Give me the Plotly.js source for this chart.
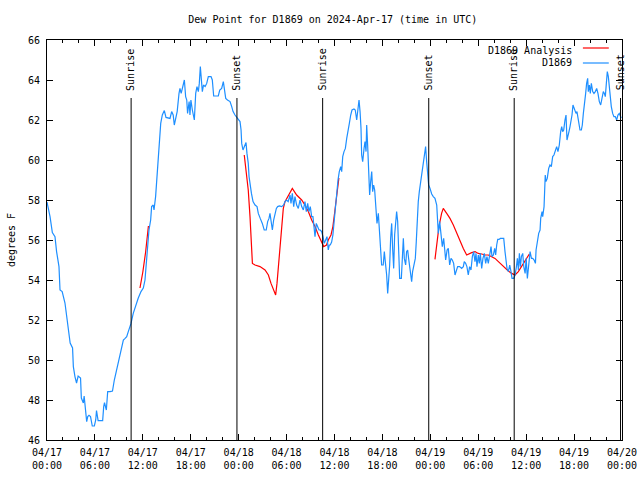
<!DOCTYPE html>
<html>
<head>
<meta charset="utf-8">
<script src="https://cdn.plot.ly/plotly-3.0.1.min.js"></script>
<style>html,body{margin:0;padding:0;background:#fff;}#chart{width:640px;height:480px;}</style>
</head>
<body>
<div id="chart"></div>
<script>
// D1869 observations: hours after 2024-04-17 00:00 UTC, dew point (F)
const blueHours = [0.0,0.38,0.67,1.0,1.2,1.5,1.63,1.9,2.25,2.6,2.9,3.2,3.3,3.5,3.7,3.9,4.2,4.3,4.55,4.65,4.85,4.97,5.1,5.26,5.45,5.67,5.93,6.1,6.2,6.4,6.7,6.97,7.1,7.2,7.43,7.6,7.9,8.2,8.43,8.72,9.0,9.27,9.56,9.75,9.98,10.18,10.52,10.8,11.1,11.43,11.77,12.06,12.27,12.48,12.6,12.77,12.98,13.1,13.3,13.4,13.6,13.78,13.94,14.06,14.24,14.44,14.69,14.9,15.2,15.4,15.61,15.8,15.94,16.1,16.3,16.53,16.65,16.8,17.07,17.2,17.36,17.5,17.6,17.8,17.9,18.02,18.2,18.37,18.45,18.62,18.78,18.95,19.07,19.2,19.3,19.45,19.6,19.8,20.0,20.2,20.54,20.7,20.87,21.1,21.45,21.63,21.87,22.08,22.2,22.38,22.6,22.92,23.13,23.3,23.54,23.75,23.96,24.17,24.3,24.38,24.54,24.7,24.92,25.04,25.2,25.3,25.46,25.6,25.8,26.05,26.3,26.46,26.7,26.96,27.2,27.45,27.63,27.8,27.92,28.05,28.22,28.38,28.55,28.72,28.88,29.1,29.38,29.63,29.8,30.0,30.2,30.43,30.55,30.72,30.89,31.05,31.26,31.47,31.68,31.89,32.1,32.3,32.47,32.64,32.8,32.97,33.14,33.3,33.43,33.56,33.72,33.89,34.06,34.22,34.39,34.56,34.72,34.89,35.06,35.22,35.35,35.47,35.64,35.8,35.94,36.06,36.19,36.3,36.44,36.6,36.78,36.9,37.03,37.19,37.36,37.53,37.69,37.86,38.03,38.19,38.44,38.6,38.78,38.94,39.07,39.2,39.32,39.4,39.53,39.7,39.82,39.95,40.03,40.15,40.28,40.4,40.53,40.66,40.78,40.9,41.03,41.2,41.32,41.49,41.61,41.78,41.9,42.1,42.24,42.36,42.53,42.66,42.78,42.91,43.03,43.16,43.28,43.41,43.53,43.66,43.78,43.91,44.03,44.16,44.37,44.49,44.62,44.74,44.91,45.03,45.16,45.28,45.41,45.53,45.66,45.78,45.95,46.12,46.24,46.37,46.49,46.62,46.78,46.95,47.12,47.29,47.41,47.54,47.66,47.79,47.96,48.17,48.37,48.58,48.8,48.92,49.0,49.17,49.33,49.5,49.67,49.8,49.92,50.1,50.25,50.42,50.59,50.75,50.92,51.09,51.25,51.42,51.67,51.92,52.13,52.25,52.42,52.58,52.75,52.92,53.09,53.26,53.42,53.59,53.72,53.84,54.01,54.13,54.26,54.43,54.59,54.76,54.93,55.09,55.26,55.43,55.6,55.72,55.89,56.06,56.18,56.31,56.44,56.6,56.77,57.02,57.19,57.35,57.48,57.6,57.77,57.94,58.1,58.23,58.44,58.61,58.78,58.9,59.03,59.15,59.28,59.4,59.57,59.7,59.87,60.0,60.15,60.28,60.4,60.49,60.66,60.82,61.0,61.16,61.24,61.4,61.57,61.74,61.82,61.99,62.07,62.24,62.32,62.39,62.48,62.64,62.82,62.98,63.15,63.32,63.48,63.65,63.82,63.98,64.15,64.32,64.45,64.57,64.7,64.86,64.99,65.11,65.24,65.36,65.49,65.61,65.74,65.86,65.99,66.11,66.24,66.36,66.49,66.61,66.74,66.91,67.03,67.16,67.28,67.45,67.57,67.7,67.78,67.91,68.03,68.16,68.33,68.49,68.66,68.83,68.99,69.16,69.33,69.5,69.66,69.79,69.91,70.04,70.16,70.29,70.41,70.54,70.66,70.83,70.99,71.16,71.33,71.49,71.66,71.9];
const blueValues = [57.9,57.17,56.37,56.17,55.42,54.67,53.5,53.42,52.85,51.85,50.85,50.6,49.67,49.17,48.85,49.2,49.1,48.1,47.85,48.2,47.42,46.92,47.17,47.23,47.17,46.7,46.7,47.0,47.47,46.97,46.97,46.97,47.67,47.87,47.5,48.42,48.42,48.45,49.0,49.5,50.0,50.5,51.0,51.07,51.17,51.42,51.83,52.33,52.75,53.1,53.42,53.6,54.0,55.08,56.0,56.5,57.0,57.67,57.75,57.5,58.17,59.17,60.0,61.0,61.83,62.25,62.47,62.13,62.08,62.08,62.42,62.25,61.75,62.08,62.42,63.33,63.58,63.33,63.83,64.0,63.17,63.0,62.33,62.92,62.25,63.0,62.5,62.08,62.0,63.33,63.67,63.42,63.83,64.67,64.0,63.42,63.75,63.67,63.83,64.17,64.17,64.0,63.2,63.2,63.2,63.5,63.58,63.92,63.58,63.08,63.0,62.92,62.67,62.42,62.25,62.13,62.03,61.92,61.5,60.83,60.5,60.67,60.87,60.33,59.83,59.17,58.58,58.33,57.92,57.75,57.67,57.33,57.08,56.83,56.5,56.5,56.92,57.08,57.33,57.0,56.5,57.0,57.33,57.58,57.67,57.7,57.67,57.75,57.92,58.0,57.92,58.25,57.83,58.33,57.67,58.17,57.75,57.58,58.0,57.67,57.5,57.92,57.42,57.83,57.42,57.67,57.17,57.17,56.67,56.17,56.83,56.67,56.5,56.5,56.42,56.17,55.83,56.0,56.17,55.5,55.75,55.75,55.9,56.25,56.92,57.42,58.25,58.58,59.0,59.42,59.67,59.42,60.17,60.42,60.58,61.08,61.58,61.83,62.25,62.5,62.55,62.5,62.0,62.42,63.0,62.42,61.58,60.25,59.92,60.58,60.92,60.42,61.75,60.75,58.92,58.25,58.92,59.42,58.42,58.75,58.5,57.25,56.83,57.33,56.67,55.5,54.75,54.75,55.42,54.92,54.25,53.33,53.83,54.75,56.08,56.83,55.58,54.58,56.25,56.92,57.42,56.92,54.92,54.08,54.08,55.25,56.08,55.08,54.75,55.42,55.5,55.08,54.75,54.25,53.92,54.42,54.75,55.08,55.92,57.08,57.92,58.42,58.83,59.42,59.92,60.33,60.67,59.92,59.25,58.75,58.58,58.3,58.17,58.08,57.75,57.0,56.33,56.92,56.42,55.67,56.08,55.42,55.0,55.5,55.58,54.75,55.08,55.0,54.83,54.25,54.5,54.67,54.67,54.58,54.67,54.92,54.83,54.67,54.25,54.67,54.5,55.17,55.42,54.92,55.33,54.67,55.25,54.83,55.33,54.58,55.08,55.33,54.83,55.17,54.83,55.25,55.67,55.17,55.25,55.58,55.25,55.75,56.03,56.03,56.08,56.08,56.08,55.42,55.0,54.58,54.42,54.75,54.42,54.08,54.08,54.25,54.67,55.08,54.5,55.33,54.67,55.17,55.33,54.67,54.33,55.08,54.08,54.67,55.17,55.42,55.08,55.08,55.0,54.83,55.5,55.92,56.33,56.5,57.08,57.42,57.17,57.67,58.75,59.25,58.92,59.08,59.58,59.75,59.67,60.17,60.25,60.5,60.67,60.42,60.75,61.42,61.67,61.42,61.5,62.0,62.25,61.0,61.17,61.42,61.67,61.92,62.25,62.75,62.58,62.5,62.33,62.42,62.08,61.92,61.5,61.5,61.75,62.33,62.67,63.33,63.83,64.08,63.42,63.75,63.33,63.83,63.42,63.33,63.42,63.58,63.33,62.92,62.75,63.17,63.42,63.33,63.17,63.83,64.42,64.17,63.67,63.0,62.67,62.33,62.17,62.17,62.0,62.25,62.33,62.1];
// D1869 Analysis (null = gap)
const redHours = [11.64,12.0,12.35,12.7,18.0,24.7,24.98,25.2,25.42,25.55,25.72,26.05,26.67,27.3,27.72,28.05,28.34,28.63,28.8,28.97,29.18,29.39,29.59,29.8,30.22,30.72,31.26,31.89,32.3,32.72,33.14,33.56,33.98,34.4,34.65,35.0,35.22,35.56,35.8,36.06,36.3,36.55,42.0,48.58,48.83,49.08,49.41,49.62,50.05,50.46,50.88,51.3,51.72,52.13,52.55,52.76,53.18,53.6,54.0,54.43,54.85,55.26,55.68,56.1,56.52,56.93,57.35,57.77,58.19,58.6,59.02,59.44,59.9,60.4];
const redValues = [53.6,54.4,55.4,56.7,null,60.25,59.17,58.5,57.17,56.17,54.83,54.75,54.67,54.5,54.25,53.83,53.58,53.25,53.83,54.67,55.83,56.67,57.58,57.92,58.25,58.58,58.25,58.0,57.75,57.42,57.0,56.67,56.25,55.92,55.67,55.75,56.0,56.25,56.67,57.5,58.2,59.1,null,55.03,56.0,56.67,57.33,57.58,57.33,57.08,56.75,56.33,55.92,55.58,55.25,55.3,55.37,55.42,55.33,55.3,55.25,55.25,55.17,55.08,54.92,54.75,54.58,54.45,54.33,54.25,54.42,54.67,55.0,55.3];
const sunTimes = ['2024-04-17 10:32','2024-04-17 23:47','2024-04-18 10:31','2024-04-18 23:48','2024-04-19 10:30','2024-04-19 23:49'];
const sunLabels = ['Sunrise','Sunset','Sunrise','Sunset','Sunrise','Sunset'];
const xTickVals = ['2024-04-17 00:00','2024-04-17 06:00','2024-04-17 12:00','2024-04-17 18:00','2024-04-18 00:00','2024-04-18 06:00','2024-04-18 12:00','2024-04-18 18:00','2024-04-19 00:00','2024-04-19 06:00','2024-04-19 12:00','2024-04-19 18:00','2024-04-20 00:00'];
const xTickText = ['04/17<br>00:00','04/17<br>06:00','04/17<br>12:00','04/17<br>18:00','04/18<br>00:00','04/18<br>06:00','04/18<br>12:00','04/18<br>18:00','04/19<br>00:00','04/19<br>06:00','04/19<br>12:00','04/19<br>18:00','04/20<br>00:00'];
const seriesNames = ['D1869 Analysis','D1869'];
const seriesColors = ['#ff0000','#1e8fff'];

function toDate(h){
  const ms = Date.UTC(2024,3,17) + Math.round(h*3600000);
  return new Date(ms).toISOString().slice(0,19).replace('T',' ');
}
const minorVals = [];
for (let h = 0; h <= 72; h += 2) { if (h % 6 !== 0) minorVals.push(toDate(h)); }

const font = 'DejaVu Sans Mono';
const traces = [
  {x: redHours.map(toDate), y: redValues, mode:'lines', name: seriesNames[0], line:{color: seriesColors[0], width:1.2}, connectgaps:false},
  {x: blueHours.map(toDate), y: blueValues, mode:'lines', name: seriesNames[1], line:{color: seriesColors[1], width:1.2}}
];
const shapes = [];
const annotations = [];
sunTimes.forEach((t,i)=>{
  shapes.push({type:'line', xref:'x', yref:'paper', x0:t, x1:t, y0:0, y1:0.855, line:{color:'black', width:1}});
  annotations.push({xref:'x', yref:'paper', x:t, y:0.868, text: sunLabels[i], textangle:-90, showarrow:false, xanchor:'center', yanchor:'bottom', font:{family:font, size:10, color:'black'}});
});
// legend (text right, sample line on the right, gnuplot style)
const legTextY = [0.973, 0.944];
const legLineY = [0.98, 0.9425];
seriesNames.forEach((n,i)=>{
  annotations.push({xref:'paper', yref:'paper', x:0.916, y:legTextY[i], text:n, showarrow:false, xanchor:'right', yanchor:'middle', font:{family:font, size:10, color:'black'}});
  shapes.push({type:'line', xref:'paper', yref:'paper', x0:0.932, x1:0.977, y0:legLineY[i], y1:legLineY[i], line:{color:seriesColors[i], width:1.2}});
});

const layout = {
  width:640, height:480,
  margin:{l:47, r:18, t:40, b:40},
  paper_bgcolor:'white', plot_bgcolor:'white',
  showlegend:false,
  font:{family:font, size:10, color:'black'},
  title:{text:'Dew Point for D1869 on 2024-Apr-17 (time in UTC)', x:0.52, xanchor:'center', y:0.96, yanchor:'middle', font:{family:font, size:10, color:'black'}},
  xaxis:{type:'date', range:['2024-04-17 00:00','2024-04-20 00:00'], tickmode:'array', tickvals:xTickVals, ticktext:xTickText,
    ticks:'inside', ticklen:6, tickcolor:'black', showline:true, linecolor:'black', linewidth:1, mirror:'allticks', showgrid:false, zeroline:false,
    ticklabelstandoff:3,
    minor:{tickmode:'array', tickvals:minorVals, ticks:'inside', ticklen:3, tickcolor:'black', showgrid:false},
    tickfont:{family:font, size:10, color:'black'}},
  yaxis:{range:[46,66], dtick:2, tick0:46, ticks:'inside', ticklen:6, tickcolor:'black', showline:true, linecolor:'black', linewidth:1, mirror:'allticks', showgrid:false, zeroline:false,
    ticklabelstandoff:4,
    tickfont:{family:font, size:10, color:'black'},
    title:{text:'degrees F', standoff:10, font:{family:font, size:10, color:'black'}}},
  shapes: shapes,
  annotations: annotations
};
Plotly.newPlot('chart', traces, layout, {displayModeBar:false, staticPlot:true});
</script>
</body>
</html>
